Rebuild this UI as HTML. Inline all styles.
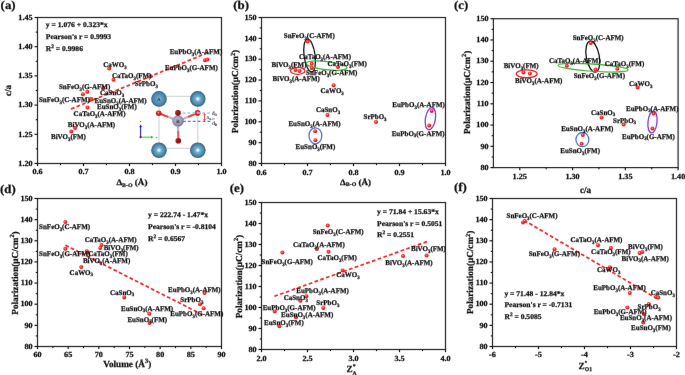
<!DOCTYPE html>
<html><head><meta charset="utf-8"><style>
html,body{margin:0;padding:0;background:#fff;width:685px;height:375px;overflow:hidden}
svg{display:block}
text{font-family:"Liberation Serif",serif;font-weight:bold;fill:#111;stroke:#111;stroke-width:0.25px;text-rendering:geometricPrecision}
</style></head><body>
<svg width="685" height="375" viewBox="0 0 685 375">
<defs>
<radialGradient id="rd" cx="0.42" cy="0.38" r="0.6"><stop offset="0" stop-color="#ff9a9a"/><stop offset="0.45" stop-color="#f82a2a"/><stop offset="1" stop-color="#e01010"/></radialGradient>
<radialGradient id="ag" cx="0.5" cy="0.5" r="0.5"><stop offset="0" stop-color="#f6ffff"/><stop offset="0.12" stop-color="#c4f2ff"/><stop offset="0.32" stop-color="#70aed0"/><stop offset="0.75" stop-color="#4a86a8"/><stop offset="1" stop-color="#2c5a7a"/></radialGradient>
<radialGradient id="ag2" cx="0.5" cy="0.5" r="0.5"><stop offset="0" stop-color="#8cc4e0"/><stop offset="0.4" stop-color="#5f98ba"/><stop offset="0.8" stop-color="#4a82a4"/><stop offset="1" stop-color="#2c5a7a"/></radialGradient>
<radialGradient id="bg" cx="0.45" cy="0.42" r="0.6"><stop offset="0" stop-color="#c8c6dc"/><stop offset="0.6" stop-color="#9896b6"/><stop offset="1" stop-color="#74729a"/></radialGradient>
<radialGradient id="og" cx="0.45" cy="0.42" r="0.6"><stop offset="0" stop-color="#ffb0b0"/><stop offset="0.3" stop-color="#f03030"/><stop offset="0.7" stop-color="#d81818"/><stop offset="1" stop-color="#9a0808"/></radialGradient>
<radialGradient id="og2" cx="0.45" cy="0.42" r="0.6"><stop offset="0" stop-color="#d83030"/><stop offset="0.6" stop-color="#a81010"/><stop offset="1" stop-color="#700606"/></radialGradient>
<filter id="bl" x="-5%" y="-5%" width="110%" height="110%"><feConvolveMatrix order="3" kernelMatrix="0.00163 0.03713 0.00163 0.03713 0.84497 0.03713 0.00163 0.03713 0.00163" divisor="1" edgeMode="none"/></filter>
</defs>
<rect width="685" height="375" fill="#fff"/>
<g filter="url(#bl)">
<rect x="37.5" y="17.5" width="184.00" height="146.00" fill="none" stroke="#262626" stroke-width="1.2"/>
<line x1="37.50" y1="163.5" x2="37.50" y2="166.10" stroke="#111" stroke-width="1.15"/>
<text transform="translate(37.50,174.40) scale(1.05,1)" font-size="7.8" text-anchor="middle">0.6</text>
<line x1="83.50" y1="163.5" x2="83.50" y2="166.10" stroke="#111" stroke-width="1.15"/>
<text transform="translate(83.50,174.40) scale(1.05,1)" font-size="7.8" text-anchor="middle">0.7</text>
<line x1="129.50" y1="163.5" x2="129.50" y2="166.10" stroke="#111" stroke-width="1.15"/>
<text transform="translate(129.50,174.40) scale(1.05,1)" font-size="7.8" text-anchor="middle">0.8</text>
<line x1="175.50" y1="163.5" x2="175.50" y2="166.10" stroke="#111" stroke-width="1.15"/>
<text transform="translate(175.50,174.40) scale(1.05,1)" font-size="7.8" text-anchor="middle">0.9</text>
<line x1="221.50" y1="163.5" x2="221.50" y2="166.10" stroke="#111" stroke-width="1.15"/>
<text transform="translate(221.50,174.40) scale(1.05,1)" font-size="7.8" text-anchor="middle">1.0</text>
<line x1="60.50" y1="163.5" x2="60.50" y2="165.10" stroke="#111" stroke-width="1.1"/>
<line x1="106.50" y1="163.5" x2="106.50" y2="165.10" stroke="#111" stroke-width="1.1"/>
<line x1="152.50" y1="163.5" x2="152.50" y2="165.10" stroke="#111" stroke-width="1.1"/>
<line x1="198.50" y1="163.5" x2="198.50" y2="165.10" stroke="#111" stroke-width="1.1"/>
<line x1="34.50" y1="163.50" x2="37.5" y2="163.50" stroke="#111" stroke-width="1.15"/>
<text transform="translate(32.70,165.70) scale(1.05,1)" font-size="7.8" text-anchor="end">1.20</text>
<line x1="34.50" y1="134.30" x2="37.5" y2="134.30" stroke="#111" stroke-width="1.15"/>
<text transform="translate(32.70,136.50) scale(1.05,1)" font-size="7.8" text-anchor="end">1.25</text>
<line x1="34.50" y1="105.10" x2="37.5" y2="105.10" stroke="#111" stroke-width="1.15"/>
<text transform="translate(32.70,107.30) scale(1.05,1)" font-size="7.8" text-anchor="end">1.30</text>
<line x1="34.50" y1="75.90" x2="37.5" y2="75.90" stroke="#111" stroke-width="1.15"/>
<text transform="translate(32.70,78.10) scale(1.05,1)" font-size="7.8" text-anchor="end">1.35</text>
<line x1="34.50" y1="46.70" x2="37.5" y2="46.70" stroke="#111" stroke-width="1.15"/>
<text transform="translate(32.70,48.90) scale(1.05,1)" font-size="7.8" text-anchor="end">1.40</text>
<line x1="34.50" y1="17.50" x2="37.5" y2="17.50" stroke="#111" stroke-width="1.15"/>
<text transform="translate(32.70,19.70) scale(1.05,1)" font-size="7.8" text-anchor="end">1.45</text>
<line x1="35.80" y1="148.90" x2="37.5" y2="148.90" stroke="#111" stroke-width="1.1"/>
<line x1="35.80" y1="119.70" x2="37.5" y2="119.70" stroke="#111" stroke-width="1.1"/>
<line x1="35.80" y1="90.50" x2="37.5" y2="90.50" stroke="#111" stroke-width="1.1"/>
<line x1="35.80" y1="61.30" x2="37.5" y2="61.30" stroke="#111" stroke-width="1.1"/>
<line x1="35.80" y1="32.10" x2="37.5" y2="32.10" stroke="#111" stroke-width="1.1"/>
<text transform="translate(11,90.5) rotate(-90)" font-size="9.2" text-anchor="middle">c/a</text>
<text transform="translate(131.9,184.7) scale(1.1,1)" font-size="8.28" text-anchor="middle">Δ<tspan font-size="5.34" dy="1.8">B-O</tspan><tspan dy="-1.8"> (Å)</tspan></text>
<text transform="translate(0.6,9.3) scale(1.07,1)" font-size="12.0">(a)</text>
<text transform="translate(45.8,26.9) scale(1.04,1)" font-size="7.3">y = 1.076 + 0.323*x</text>
<text transform="translate(45.8,38.8) scale(1.04,1)" font-size="7.3">Pearson's r = 0.9993</text>
<text transform="translate(45.8,50.599999999999994) scale(1.04,1)" font-size="7.3">R<tspan font-size="5.11" dy="-2.9">2</tspan><tspan dy="2.9"> = 0.9986</tspan></text>
<line x1="71.0" y1="109.0" x2="207.7" y2="52.8" stroke="#f52020" stroke-width="1.7" stroke-dasharray="3.70 2.304"/>
<g>
<g stroke="#c8c8c8" stroke-width="0.9" fill="none"><line x1="159" y1="96.3" x2="197.8" y2="96.3"/><line x1="159" y1="148.3" x2="197.8" y2="148.3"/><line x1="159" y1="99" x2="159" y2="150"/><line x1="197.8" y1="99" x2="197.8" y2="150"/></g>
<circle cx="159" cy="98.9" r="7.8" fill="url(#ag2)"/>
<circle cx="197.8" cy="98.9" r="7.8" fill="url(#ag)"/>
<circle cx="159" cy="150.2" r="7.8" fill="url(#ag)"/>
<circle cx="197.8" cy="150.2" r="7.8" fill="url(#ag)"/>
<g stroke-width="2.2" stroke-linecap="butt"><line x1="158.7" y1="113.2" x2="168.4" y2="117" stroke="#d84a4a"/><line x1="168.4" y1="117" x2="178" y2="121" stroke="#b8b4c8"/><line x1="197.6" y1="112.9" x2="187.8" y2="117" stroke="#d84a4a"/><line x1="187.8" y1="117" x2="178" y2="121" stroke="#b8b4c8"/><line x1="178" y1="121" x2="178.2" y2="131" stroke="#b8b4c8"/><line x1="178.2" y1="131" x2="178.3" y2="140.8" stroke="#e06060"/></g>
<circle cx="178" cy="121" r="5.8" fill="url(#bg)"/>
<circle cx="158.7" cy="113.2" r="2.8" fill="url(#og)"/>
<circle cx="178" cy="112.9" r="2.8" fill="url(#og2)"/>
<circle cx="197.6" cy="112.9" r="2.8" fill="url(#og)"/>
<circle cx="178.3" cy="140.8" r="2.8" fill="url(#og2)"/>
<line x1="182.6" y1="113.0" x2="211" y2="113.0" stroke="#a4c4ec" stroke-width="1.3" stroke-dasharray="2.8 2.1"/>
<line x1="183" y1="121.4" x2="211" y2="121.4" stroke="#3c7ed8" stroke-width="1.2" stroke-dasharray="2.8 2.1"/>
<line x1="204.5" y1="113.8" x2="204.5" y2="120.5" stroke="#e02020" stroke-width="0.8"/>
<path d="M203.4 115.2 L204.5 113.6 L205.6 115.2 M203.4 119.2 L204.5 120.8 L205.6 119.2" stroke="#e02020" stroke-width="0.7" fill="none"/>
<text x="211.9" y="115.2" font-size="5.2" style="font-weight:normal;stroke-width:0.1px">d<tspan font-size="3.4" dy="0.9">O</tspan></text>
<text x="206.4" y="119.2" font-size="4.4" style="font-weight:normal;stroke-width:0.05px;fill:#333">Δ<tspan font-size="3" dy="0.9">B-O</tspan></text>
<text x="212.2" y="124.8" font-size="5.2" style="font-weight:normal;stroke-width:0.1px">d<tspan font-size="3.4" dy="0.9">B</tspan></text>
<text x="156.9" y="100.8" font-size="5" style="font-weight:normal;stroke-width:0.1px">A</text>
<text x="176.3" y="123" font-size="5" style="font-weight:normal;stroke-width:0.1px">B</text>
<text x="176.9" y="114.4" font-size="3.6" style="font-weight:normal;stroke-width:0.05px">O</text>
<text x="177.4" y="142.2" font-size="3.6" style="font-weight:normal;stroke-width:0.05px">O</text>
<line x1="140.6" y1="137.2" x2="140.6" y2="126.5" stroke="#1010e8" stroke-width="1"/>
<path d="M139.2 127.2 L140.6 124.4 L142 127.2 Z" fill="#1010e8"/>
<line x1="140.6" y1="137.2" x2="151.5" y2="137.2" stroke="#18d018" stroke-width="1"/>
<path d="M151 135.8 L153.8 137.2 L151 138.6 Z" fill="#18d018"/>
<circle cx="140.6" cy="137.2" r="1.1" fill="#8a1010"/>
<circle cx="140.6" cy="121.6" r="0.5" fill="#333"/>
<circle cx="156.9" cy="137.4" r="0.5" fill="#333"/>
</g>
<circle cx="109.2" cy="68.6" r="2.0" fill="url(#rd)"/>
<circle cx="113.5" cy="79.8" r="2.0" fill="url(#rd)"/>
<circle cx="150.8" cy="76.3" r="2.0" fill="url(#rd)"/>
<circle cx="82.9" cy="94.3" r="2.0" fill="url(#rd)"/>
<circle cx="87.3" cy="91.8" r="2.0" fill="url(#rd)"/>
<circle cx="103.2" cy="88.3" r="2.0" fill="url(#rd)"/>
<circle cx="90.9" cy="99.0" r="2.0" fill="url(#rd)"/>
<circle cx="91.4" cy="99.2" r="2.0" fill="url(#rd)"/>
<circle cx="87.5" cy="107.6" r="2.0" fill="url(#rd)"/>
<circle cx="75.1" cy="128.1" r="2.0" fill="url(#rd)"/>
<circle cx="71.3" cy="131.5" r="2.0" fill="url(#rd)"/>
<circle cx="205.0" cy="60.3" r="2.0" fill="url(#rd)"/>
<circle cx="207.3" cy="59.6" r="2.0" fill="url(#rd)"/>
<text transform="translate(103.3,67.0) scale(0.972,1)" font-size="7.2" text-anchor="start">CaWO<tspan font-size="5.04" dy="1.9">3</tspan><tspan dy="-1.9"></tspan></text>
<text transform="translate(112.0,77.8) scale(0.972,1)" font-size="7.2" text-anchor="start">CaTaO<tspan font-size="5.04" dy="1.9">3</tspan><tspan dy="-1.9">(FM)</tspan></text>
<text transform="translate(134.8,85.6) scale(0.972,1)" font-size="7.2" text-anchor="start">SrPbO<tspan font-size="5.04" dy="1.9">3</tspan><tspan dy="-1.9"></tspan></text>
<text transform="translate(58.9,88.6) scale(0.972,1)" font-size="7.2" text-anchor="start">SnFeO<tspan font-size="5.04" dy="1.9">3</tspan><tspan dy="-1.9">(G-AFM)</tspan></text>
<text transform="translate(100.0,95.2) scale(0.972,1)" font-size="7.2" text-anchor="start">CaSnO<tspan font-size="5.04" dy="1.9">3</tspan><tspan dy="-1.9"></tspan></text>
<text transform="translate(38.9,102.2) scale(0.972,1)" font-size="7.2" text-anchor="start">SnFeO<tspan font-size="5.04" dy="1.9">3</tspan><tspan dy="-1.9">(C-AFM)</tspan></text>
<text transform="translate(94.5,102.6) scale(0.972,1)" font-size="7.2" text-anchor="start">EuSnO<tspan font-size="5.04" dy="1.9">3</tspan><tspan dy="-1.9">(A-AFM)</tspan></text>
<text transform="translate(97.0,109.0) scale(0.972,1)" font-size="7.2" text-anchor="start">EuSnO<tspan font-size="5.04" dy="1.9">3</tspan><tspan dy="-1.9">(FM)</tspan></text>
<text transform="translate(73.6,115.6) scale(0.972,1)" font-size="7.2" text-anchor="start">CaTaO<tspan font-size="5.04" dy="1.9">3</tspan><tspan dy="-1.9">(A-AFM)</tspan></text>
<text transform="translate(67.8,126.7) scale(0.972,1)" font-size="7.2" text-anchor="start">BiVO<tspan font-size="5.04" dy="1.9">3</tspan><tspan dy="-1.9">(A-AFM)</tspan></text>
<text transform="translate(51.0,139.4) scale(0.972,1)" font-size="7.2" text-anchor="start">BiVO<tspan font-size="5.04" dy="1.9">3</tspan><tspan dy="-1.9">(FM)</tspan></text>
<text transform="translate(169.7,53.6) scale(0.972,1)" font-size="7.2" text-anchor="start">EuPbO<tspan font-size="5.04" dy="1.9">3</tspan><tspan dy="-1.9">(A-AFM)</tspan></text>
<text transform="translate(164.9,69.6) scale(0.972,1)" font-size="7.2" text-anchor="start">EuPbO<tspan font-size="5.04" dy="1.9">3</tspan><tspan dy="-1.9">(G-AFM)</tspan></text>
<rect x="261.5" y="17.5" width="184.00" height="146.00" fill="none" stroke="#262626" stroke-width="1.2"/>
<line x1="261.50" y1="163.5" x2="261.50" y2="166.10" stroke="#111" stroke-width="1.15"/>
<text transform="translate(261.50,174.50) scale(1.05,1)" font-size="7.8" text-anchor="middle">0.6</text>
<line x1="307.50" y1="163.5" x2="307.50" y2="166.10" stroke="#111" stroke-width="1.15"/>
<text transform="translate(307.50,174.50) scale(1.05,1)" font-size="7.8" text-anchor="middle">0.7</text>
<line x1="353.50" y1="163.5" x2="353.50" y2="166.10" stroke="#111" stroke-width="1.15"/>
<text transform="translate(353.50,174.50) scale(1.05,1)" font-size="7.8" text-anchor="middle">0.8</text>
<line x1="399.50" y1="163.5" x2="399.50" y2="166.10" stroke="#111" stroke-width="1.15"/>
<text transform="translate(399.50,174.50) scale(1.05,1)" font-size="7.8" text-anchor="middle">0.9</text>
<line x1="445.50" y1="163.5" x2="445.50" y2="166.10" stroke="#111" stroke-width="1.15"/>
<text transform="translate(445.50,174.50) scale(1.05,1)" font-size="7.8" text-anchor="middle">1.0</text>
<line x1="284.50" y1="163.5" x2="284.50" y2="165.10" stroke="#111" stroke-width="1.1"/>
<line x1="330.50" y1="163.5" x2="330.50" y2="165.10" stroke="#111" stroke-width="1.1"/>
<line x1="376.50" y1="163.5" x2="376.50" y2="165.10" stroke="#111" stroke-width="1.1"/>
<line x1="422.50" y1="163.5" x2="422.50" y2="165.10" stroke="#111" stroke-width="1.1"/>
<line x1="258.50" y1="163.50" x2="261.5" y2="163.50" stroke="#111" stroke-width="1.15"/>
<text transform="translate(256.70,165.70) scale(1.05,1)" font-size="7.8" text-anchor="end">80</text>
<line x1="258.50" y1="142.64" x2="261.5" y2="142.64" stroke="#111" stroke-width="1.15"/>
<text transform="translate(256.70,144.84) scale(1.05,1)" font-size="7.8" text-anchor="end">90</text>
<line x1="258.50" y1="121.79" x2="261.5" y2="121.79" stroke="#111" stroke-width="1.15"/>
<text transform="translate(256.70,123.99) scale(1.05,1)" font-size="7.8" text-anchor="end">100</text>
<line x1="258.50" y1="100.93" x2="261.5" y2="100.93" stroke="#111" stroke-width="1.15"/>
<text transform="translate(256.70,103.13) scale(1.05,1)" font-size="7.8" text-anchor="end">110</text>
<line x1="258.50" y1="80.07" x2="261.5" y2="80.07" stroke="#111" stroke-width="1.15"/>
<text transform="translate(256.70,82.27) scale(1.05,1)" font-size="7.8" text-anchor="end">120</text>
<line x1="258.50" y1="59.21" x2="261.5" y2="59.21" stroke="#111" stroke-width="1.15"/>
<text transform="translate(256.70,61.41) scale(1.05,1)" font-size="7.8" text-anchor="end">130</text>
<line x1="258.50" y1="38.36" x2="261.5" y2="38.36" stroke="#111" stroke-width="1.15"/>
<text transform="translate(256.70,40.56) scale(1.05,1)" font-size="7.8" text-anchor="end">140</text>
<line x1="258.50" y1="17.50" x2="261.5" y2="17.50" stroke="#111" stroke-width="1.15"/>
<text transform="translate(256.70,19.70) scale(1.05,1)" font-size="7.8" text-anchor="end">150</text>
<line x1="259.80" y1="153.07" x2="261.5" y2="153.07" stroke="#111" stroke-width="1.1"/>
<line x1="259.80" y1="132.21" x2="261.5" y2="132.21" stroke="#111" stroke-width="1.1"/>
<line x1="259.80" y1="111.36" x2="261.5" y2="111.36" stroke="#111" stroke-width="1.1"/>
<line x1="259.80" y1="90.50" x2="261.5" y2="90.50" stroke="#111" stroke-width="1.1"/>
<line x1="259.80" y1="69.64" x2="261.5" y2="69.64" stroke="#111" stroke-width="1.1"/>
<line x1="259.80" y1="48.79" x2="261.5" y2="48.79" stroke="#111" stroke-width="1.1"/>
<line x1="259.80" y1="27.93" x2="261.5" y2="27.93" stroke="#111" stroke-width="1.1"/>
<text transform="translate(238.3,91.5) rotate(-90)" font-size="9.2" text-anchor="middle">Polarization(μC/cm<tspan font-size="6.26" dy="-3.6">2</tspan><tspan dy="3.6">)</tspan></text>
<text transform="translate(355.6,184.6) scale(1.1,1)" font-size="8.28" text-anchor="middle">Δ<tspan font-size="5.34" dy="1.8">B-O</tspan><tspan dy="-1.8"> (Å)</tspan></text>
<text transform="translate(233.3,9.0) scale(1.07,1)" font-size="12.0">(b)</text>
<ellipse cx="309.6" cy="55.5" rx="5.5" ry="16.5" transform="rotate(-7.6 309.6 55.5)" fill="none" stroke="#111" stroke-width="1.3"/>
<ellipse cx="326.4" cy="65.6" rx="20.6" ry="4.1" transform="rotate(6.5 326.4 65.6)" fill="none" stroke="#3cb43c" stroke-width="1.3"/>
<ellipse cx="297.7" cy="70.8" rx="7.3" ry="3.5" transform="rotate(0 297.7 70.8)" fill="none" stroke="#e82020" stroke-width="1.3"/>
<ellipse cx="315.4" cy="135.8" rx="6.4" ry="8.0" transform="rotate(0 315.4 135.8)" fill="none" stroke="#4a70d0" stroke-width="1.3"/>
<ellipse cx="430.4" cy="118.7" rx="5.0" ry="11.1" transform="rotate(9.5 430.4 118.7)" fill="none" stroke="#7a3cc8" stroke-width="1.3"/>
<circle cx="307.6" cy="41.5" r="2.0" fill="url(#rd)"/>
<circle cx="311.7" cy="63.8" r="2.0" fill="url(#rd)"/>
<circle cx="311.7" cy="67.9" r="2.0" fill="url(#rd)"/>
<circle cx="338.0" cy="67.0" r="2.0" fill="url(#rd)"/>
<circle cx="295.5" cy="70.0" r="2.0" fill="url(#rd)"/>
<circle cx="299.5" cy="71.1" r="2.0" fill="url(#rd)"/>
<circle cx="333.6" cy="85.2" r="2.0" fill="url(#rd)"/>
<circle cx="327.5" cy="115.0" r="2.0" fill="url(#rd)"/>
<circle cx="376.0" cy="122.0" r="2.0" fill="url(#rd)"/>
<circle cx="315.2" cy="131.2" r="2.0" fill="url(#rd)"/>
<circle cx="315.4" cy="140.3" r="2.0" fill="url(#rd)"/>
<circle cx="431.7" cy="110.9" r="2.0" fill="url(#rd)"/>
<circle cx="429.2" cy="125.5" r="2.0" fill="url(#rd)"/>
<text transform="translate(283.8,38.1) scale(0.972,1)" font-size="7.2" text-anchor="start">SnFeO<tspan font-size="5.04" dy="1.9">3</tspan><tspan dy="-1.9">(C-AFM)</tspan></text>
<text transform="translate(299.1,58.6) scale(0.972,1)" font-size="7.2" text-anchor="start">CaTaO<tspan font-size="5.04" dy="1.9">3</tspan><tspan dy="-1.9">(A-AFM)</tspan></text>
<text transform="translate(327.4,66.0) scale(0.972,1)" font-size="7.2" text-anchor="start">CaTaO<tspan font-size="5.04" dy="1.9">3</tspan><tspan dy="-1.9">(FM)</tspan></text>
<text transform="translate(271.6,67.4) scale(0.972,1)" font-size="7.2" text-anchor="start">BiVO<tspan font-size="5.04" dy="1.9">3</tspan><tspan dy="-1.9">(FM)</tspan></text>
<text transform="translate(306.1,74.8) scale(0.972,1)" font-size="7.2" text-anchor="start">SnFeO<tspan font-size="5.04" dy="1.9">3</tspan><tspan dy="-1.9">(G-AFM)</tspan></text>
<text transform="translate(272.6,80.7) scale(0.972,1)" font-size="7.2" text-anchor="start">BiVO<tspan font-size="5.04" dy="1.9">3</tspan><tspan dy="-1.9">(A-AFM)</tspan></text>
<text transform="translate(320.4,93.3) scale(0.972,1)" font-size="7.2" text-anchor="start">CaWO<tspan font-size="5.04" dy="1.9">3</tspan><tspan dy="-1.9"></tspan></text>
<text transform="translate(315.9,111.7) scale(0.972,1)" font-size="7.2" text-anchor="start">CaSnO<tspan font-size="5.04" dy="1.9">3</tspan><tspan dy="-1.9"></tspan></text>
<text transform="translate(363.5,118.6) scale(0.972,1)" font-size="7.2" text-anchor="start">SrPbO<tspan font-size="5.04" dy="1.9">3</tspan><tspan dy="-1.9"></tspan></text>
<text transform="translate(340.6,126.0) scale(0.972,1)" font-size="7.2" text-anchor="end">EuSnO<tspan font-size="5.04" dy="1.9">3</tspan><tspan dy="-1.9">(A-AFM)</tspan></text>
<text transform="translate(335.3,148.7) scale(0.972,1)" font-size="7.2" text-anchor="end">EuSnO<tspan font-size="5.04" dy="1.9">3</tspan><tspan dy="-1.9">(FM)</tspan></text>
<text transform="translate(392.3,107.3) scale(0.972,1)" font-size="7.2" text-anchor="start">EuPbO<tspan font-size="5.04" dy="1.9">3</tspan><tspan dy="-1.9">(A-AFM)</tspan></text>
<text transform="translate(391.7,135.5) scale(0.972,1)" font-size="7.2" text-anchor="start">EuPbO<tspan font-size="5.04" dy="1.9">3</tspan><tspan dy="-1.9">(G-AFM)</tspan></text>
<rect x="493.4" y="18.7" width="184.70" height="148.90" fill="none" stroke="#262626" stroke-width="1.2"/>
<line x1="519.79" y1="167.6" x2="519.79" y2="170.20" stroke="#111" stroke-width="1.15"/>
<text transform="translate(519.79,178.60) scale(1.05,1)" font-size="7.8" text-anchor="middle">1.25</text>
<line x1="572.56" y1="167.6" x2="572.56" y2="170.20" stroke="#111" stroke-width="1.15"/>
<text transform="translate(572.56,178.60) scale(1.05,1)" font-size="7.8" text-anchor="middle">1.30</text>
<line x1="625.33" y1="167.6" x2="625.33" y2="170.20" stroke="#111" stroke-width="1.15"/>
<text transform="translate(625.33,178.60) scale(1.05,1)" font-size="7.8" text-anchor="middle">1.35</text>
<line x1="678.10" y1="167.6" x2="678.10" y2="170.20" stroke="#111" stroke-width="1.15"/>
<text transform="translate(678.10,178.60) scale(1.05,1)" font-size="7.8" text-anchor="middle">1.40</text>
<line x1="546.17" y1="167.6" x2="546.17" y2="169.20" stroke="#111" stroke-width="1.1"/>
<line x1="598.94" y1="167.6" x2="598.94" y2="169.20" stroke="#111" stroke-width="1.1"/>
<line x1="651.71" y1="167.6" x2="651.71" y2="169.20" stroke="#111" stroke-width="1.1"/>
<line x1="490.40" y1="167.60" x2="493.4" y2="167.60" stroke="#111" stroke-width="1.15"/>
<text transform="translate(488.60,169.80) scale(1.05,1)" font-size="7.8" text-anchor="end">80</text>
<line x1="490.40" y1="146.33" x2="493.4" y2="146.33" stroke="#111" stroke-width="1.15"/>
<text transform="translate(488.60,148.53) scale(1.05,1)" font-size="7.8" text-anchor="end">90</text>
<line x1="490.40" y1="125.06" x2="493.4" y2="125.06" stroke="#111" stroke-width="1.15"/>
<text transform="translate(488.60,127.26) scale(1.05,1)" font-size="7.8" text-anchor="end">100</text>
<line x1="490.40" y1="103.79" x2="493.4" y2="103.79" stroke="#111" stroke-width="1.15"/>
<text transform="translate(488.60,105.99) scale(1.05,1)" font-size="7.8" text-anchor="end">110</text>
<line x1="490.40" y1="82.51" x2="493.4" y2="82.51" stroke="#111" stroke-width="1.15"/>
<text transform="translate(488.60,84.71) scale(1.05,1)" font-size="7.8" text-anchor="end">120</text>
<line x1="490.40" y1="61.24" x2="493.4" y2="61.24" stroke="#111" stroke-width="1.15"/>
<text transform="translate(488.60,63.44) scale(1.05,1)" font-size="7.8" text-anchor="end">130</text>
<line x1="490.40" y1="39.97" x2="493.4" y2="39.97" stroke="#111" stroke-width="1.15"/>
<text transform="translate(488.60,42.17) scale(1.05,1)" font-size="7.8" text-anchor="end">140</text>
<line x1="490.40" y1="18.70" x2="493.4" y2="18.70" stroke="#111" stroke-width="1.15"/>
<text transform="translate(488.60,20.90) scale(1.05,1)" font-size="7.8" text-anchor="end">150</text>
<line x1="491.70" y1="156.96" x2="493.4" y2="156.96" stroke="#111" stroke-width="1.1"/>
<line x1="491.70" y1="135.69" x2="493.4" y2="135.69" stroke="#111" stroke-width="1.1"/>
<line x1="491.70" y1="114.42" x2="493.4" y2="114.42" stroke="#111" stroke-width="1.1"/>
<line x1="491.70" y1="93.15" x2="493.4" y2="93.15" stroke="#111" stroke-width="1.1"/>
<line x1="491.70" y1="71.88" x2="493.4" y2="71.88" stroke="#111" stroke-width="1.1"/>
<line x1="491.70" y1="50.61" x2="493.4" y2="50.61" stroke="#111" stroke-width="1.1"/>
<line x1="491.70" y1="29.34" x2="493.4" y2="29.34" stroke="#111" stroke-width="1.1"/>
<text transform="translate(469.8,92.4) rotate(-90)" font-size="9.2" text-anchor="middle">Polarization(μC/cm<tspan font-size="6.26" dy="-3.6">2</tspan><tspan dy="3.6">)</tspan></text>
<text x="585.6" y="192.7" font-size="9.2" text-anchor="middle">c/a</text>
<text transform="translate(454.0,9.1) scale(1.07,1)" font-size="12.0">(c)</text>
<ellipse cx="526.7" cy="73.8" rx="10.5" ry="3.9" transform="rotate(0 526.7 73.8)" fill="none" stroke="#e82020" stroke-width="1.3"/>
<ellipse cx="592.8" cy="56.6" rx="6.5" ry="15.8" transform="rotate(-10 592.8 56.6)" fill="none" stroke="#111" stroke-width="1.3"/>
<ellipse cx="593.1" cy="67.7" rx="35.1" ry="3.6" transform="rotate(3.8 593.1 67.7)" fill="none" stroke="#3cb43c" stroke-width="1.15"/>
<ellipse cx="652.5" cy="122.0" rx="4.5" ry="11.0" transform="rotate(6 652.5 122.0)" fill="none" stroke="#7a3cc8" stroke-width="1.3"/>
<ellipse cx="582.4" cy="139.6" rx="6.5" ry="7.1" transform="rotate(0 582.4 139.6)" fill="none" stroke="#4a70d0" stroke-width="1.3"/>
<circle cx="523.4" cy="72.5" r="2.0" fill="url(#rd)"/>
<circle cx="529.9" cy="73.6" r="2.0" fill="url(#rd)"/>
<circle cx="566.8" cy="65.8" r="2.0" fill="url(#rd)"/>
<circle cx="590.8" cy="42.9" r="2.0" fill="url(#rd)"/>
<circle cx="595.6" cy="69.5" r="2.0" fill="url(#rd)"/>
<circle cx="617.3" cy="68.7" r="2.0" fill="url(#rd)"/>
<circle cx="637.6" cy="87.4" r="2.0" fill="url(#rd)"/>
<circle cx="653.6" cy="113.6" r="2.0" fill="url(#rd)"/>
<circle cx="652.4" cy="128.6" r="2.0" fill="url(#rd)"/>
<circle cx="601.6" cy="117.4" r="2.0" fill="url(#rd)"/>
<circle cx="623.6" cy="124.6" r="2.0" fill="url(#rd)"/>
<circle cx="582.8" cy="135.1" r="2.0" fill="url(#rd)"/>
<circle cx="581.6" cy="143.8" r="2.0" fill="url(#rd)"/>
<text transform="translate(503.7,67.9) scale(0.972,1)" font-size="7.2" text-anchor="start">BiVO<tspan font-size="5.04" dy="1.9">3</tspan><tspan dy="-1.9">(FM)</tspan></text>
<text transform="translate(515.0,82.8) scale(0.972,1)" font-size="7.2" text-anchor="start">BiVO<tspan font-size="5.04" dy="1.9">3</tspan><tspan dy="-1.9">(A-AFM)</tspan></text>
<text transform="translate(548.9,62.6) scale(0.972,1)" font-size="7.2" text-anchor="start">CaTaO<tspan font-size="5.04" dy="1.9">3</tspan><tspan dy="-1.9">(A-AFM)</tspan></text>
<text transform="translate(572.7,39.9) scale(0.972,1)" font-size="7.2" text-anchor="start">SnFeO<tspan font-size="5.04" dy="1.9">3</tspan><tspan dy="-1.9">(C-AFM)</tspan></text>
<text transform="translate(604.8,66.0) scale(0.972,1)" font-size="7.2" text-anchor="start">CaTaO<tspan font-size="5.04" dy="1.9">3</tspan><tspan dy="-1.9">(FM)</tspan></text>
<text transform="translate(573.7,77.9) scale(0.972,1)" font-size="7.2" text-anchor="start">SnFeO<tspan font-size="5.04" dy="1.9">3</tspan><tspan dy="-1.9">(G-AFM)</tspan></text>
<text transform="translate(629.0,85.9) scale(0.972,1)" font-size="7.2" text-anchor="start">CaWO<tspan font-size="5.04" dy="1.9">3</tspan><tspan dy="-1.9"></tspan></text>
<text transform="translate(626.0,110.5) scale(0.972,1)" font-size="7.2" text-anchor="start">EuPbO<tspan font-size="5.04" dy="1.9">3</tspan><tspan dy="-1.9">(A-AFM)</tspan></text>
<text transform="translate(622.0,138.5) scale(0.972,1)" font-size="7.2" text-anchor="start">EuPbO<tspan font-size="5.04" dy="1.9">3</tspan><tspan dy="-1.9">(G-AFM)</tspan></text>
<text transform="translate(591.0,114.5) scale(0.972,1)" font-size="7.2" text-anchor="start">CaSnO<tspan font-size="5.04" dy="1.9">3</tspan><tspan dy="-1.9"></tspan></text>
<text transform="translate(613.0,122.5) scale(0.972,1)" font-size="7.2" text-anchor="start">SrPbO<tspan font-size="5.04" dy="1.9">3</tspan><tspan dy="-1.9"></tspan></text>
<text transform="translate(561.2,130.9) scale(0.972,1)" font-size="7.2" text-anchor="start">EuSnO<tspan font-size="5.04" dy="1.9">3</tspan><tspan dy="-1.9">(A-AFM)</tspan></text>
<text transform="translate(560.3,152.6) scale(0.972,1)" font-size="7.2" text-anchor="start">EuSnO<tspan font-size="5.04" dy="1.9">3</tspan><tspan dy="-1.9">(FM)</tspan></text>
<rect x="37.5" y="198.5" width="184.00" height="148.00" fill="none" stroke="#262626" stroke-width="1.2"/>
<line x1="37.50" y1="346.5" x2="37.50" y2="349.10" stroke="#111" stroke-width="1.15"/>
<text transform="translate(37.50,357.20) scale(1.05,1)" font-size="7.8" text-anchor="middle">60</text>
<line x1="68.17" y1="346.5" x2="68.17" y2="349.10" stroke="#111" stroke-width="1.15"/>
<text transform="translate(68.17,357.20) scale(1.05,1)" font-size="7.8" text-anchor="middle">65</text>
<line x1="98.83" y1="346.5" x2="98.83" y2="349.10" stroke="#111" stroke-width="1.15"/>
<text transform="translate(98.83,357.20) scale(1.05,1)" font-size="7.8" text-anchor="middle">70</text>
<line x1="129.50" y1="346.5" x2="129.50" y2="349.10" stroke="#111" stroke-width="1.15"/>
<text transform="translate(129.50,357.20) scale(1.05,1)" font-size="7.8" text-anchor="middle">75</text>
<line x1="160.17" y1="346.5" x2="160.17" y2="349.10" stroke="#111" stroke-width="1.15"/>
<text transform="translate(160.17,357.20) scale(1.05,1)" font-size="7.8" text-anchor="middle">80</text>
<line x1="190.83" y1="346.5" x2="190.83" y2="349.10" stroke="#111" stroke-width="1.15"/>
<text transform="translate(190.83,357.20) scale(1.05,1)" font-size="7.8" text-anchor="middle">85</text>
<line x1="221.50" y1="346.5" x2="221.50" y2="349.10" stroke="#111" stroke-width="1.15"/>
<text transform="translate(221.50,357.20) scale(1.05,1)" font-size="7.8" text-anchor="middle">90</text>
<line x1="52.83" y1="346.5" x2="52.83" y2="348.10" stroke="#111" stroke-width="1.1"/>
<line x1="83.50" y1="346.5" x2="83.50" y2="348.10" stroke="#111" stroke-width="1.1"/>
<line x1="114.17" y1="346.5" x2="114.17" y2="348.10" stroke="#111" stroke-width="1.1"/>
<line x1="144.83" y1="346.5" x2="144.83" y2="348.10" stroke="#111" stroke-width="1.1"/>
<line x1="175.50" y1="346.5" x2="175.50" y2="348.10" stroke="#111" stroke-width="1.1"/>
<line x1="206.17" y1="346.5" x2="206.17" y2="348.10" stroke="#111" stroke-width="1.1"/>
<line x1="34.50" y1="346.50" x2="37.5" y2="346.50" stroke="#111" stroke-width="1.15"/>
<text transform="translate(32.70,348.70) scale(1.05,1)" font-size="7.8" text-anchor="end">80</text>
<line x1="34.50" y1="325.36" x2="37.5" y2="325.36" stroke="#111" stroke-width="1.15"/>
<text transform="translate(32.70,327.56) scale(1.05,1)" font-size="7.8" text-anchor="end">90</text>
<line x1="34.50" y1="304.21" x2="37.5" y2="304.21" stroke="#111" stroke-width="1.15"/>
<text transform="translate(32.70,306.41) scale(1.05,1)" font-size="7.8" text-anchor="end">100</text>
<line x1="34.50" y1="283.07" x2="37.5" y2="283.07" stroke="#111" stroke-width="1.15"/>
<text transform="translate(32.70,285.27) scale(1.05,1)" font-size="7.8" text-anchor="end">110</text>
<line x1="34.50" y1="261.93" x2="37.5" y2="261.93" stroke="#111" stroke-width="1.15"/>
<text transform="translate(32.70,264.13) scale(1.05,1)" font-size="7.8" text-anchor="end">120</text>
<line x1="34.50" y1="240.79" x2="37.5" y2="240.79" stroke="#111" stroke-width="1.15"/>
<text transform="translate(32.70,242.99) scale(1.05,1)" font-size="7.8" text-anchor="end">130</text>
<line x1="34.50" y1="219.64" x2="37.5" y2="219.64" stroke="#111" stroke-width="1.15"/>
<text transform="translate(32.70,221.84) scale(1.05,1)" font-size="7.8" text-anchor="end">140</text>
<line x1="34.50" y1="198.50" x2="37.5" y2="198.50" stroke="#111" stroke-width="1.15"/>
<text transform="translate(32.70,200.70) scale(1.05,1)" font-size="7.8" text-anchor="end">150</text>
<line x1="35.80" y1="335.93" x2="37.5" y2="335.93" stroke="#111" stroke-width="1.1"/>
<line x1="35.80" y1="314.79" x2="37.5" y2="314.79" stroke="#111" stroke-width="1.1"/>
<line x1="35.80" y1="293.64" x2="37.5" y2="293.64" stroke="#111" stroke-width="1.1"/>
<line x1="35.80" y1="272.50" x2="37.5" y2="272.50" stroke="#111" stroke-width="1.1"/>
<line x1="35.80" y1="251.36" x2="37.5" y2="251.36" stroke="#111" stroke-width="1.1"/>
<line x1="35.80" y1="230.21" x2="37.5" y2="230.21" stroke="#111" stroke-width="1.1"/>
<line x1="35.80" y1="209.07" x2="37.5" y2="209.07" stroke="#111" stroke-width="1.1"/>
<text transform="translate(18.0,273) rotate(-90)" font-size="9.2" text-anchor="middle">Polarization(μC/cm<tspan font-size="6.26" dy="-3.6">2</tspan><tspan dy="3.6">)</tspan></text>
<text x="127.2" y="367.1" font-size="9.2" text-anchor="middle">Volume (Å<tspan font-size="6.44" dy="-3.8">3</tspan><tspan dy="3.8">)</tspan></text>
<text transform="translate(0.0,193.3) scale(1.07,1)" font-size="12.0">(d)</text>
<text transform="translate(148.0,217.2) scale(1.04,1)" font-size="7.3">y = 222.74 - 1.47*x</text>
<text transform="translate(148.0,229.1) scale(1.04,1)" font-size="7.3">Pearson's r = -0.8104</text>
<text transform="translate(148.0,240.89999999999998) scale(1.04,1)" font-size="7.3">R<tspan font-size="5.11" dy="-2.9">2</tspan><tspan dy="2.9"> = 0.6567</tspan></text>
<line x1="65.4" y1="245.2" x2="202.4" y2="314.6" stroke="#f52020" stroke-width="1.7" stroke-dasharray="3.70 2.295"/>
<circle cx="65.4" cy="222.0" r="2.0" fill="url(#rd)"/>
<circle cx="65.3" cy="248.7" r="2.0" fill="url(#rd)"/>
<circle cx="101.5" cy="245.0" r="2.0" fill="url(#rd)"/>
<circle cx="100.2" cy="248.0" r="2.0" fill="url(#rd)"/>
<circle cx="86.8" cy="251.2" r="2.0" fill="url(#rd)"/>
<circle cx="87.2" cy="252.4" r="2.0" fill="url(#rd)"/>
<circle cx="81.3" cy="266.9" r="2.0" fill="url(#rd)"/>
<circle cx="124.3" cy="297.4" r="2.0" fill="url(#rd)"/>
<circle cx="149.3" cy="313.8" r="2.0" fill="url(#rd)"/>
<circle cx="149.6" cy="323.0" r="2.0" fill="url(#rd)"/>
<circle cx="204.5" cy="293.1" r="2.0" fill="url(#rd)"/>
<circle cx="200.0" cy="304.2" r="2.0" fill="url(#rd)"/>
<circle cx="203.6" cy="308.2" r="2.0" fill="url(#rd)"/>
<text transform="translate(39.1,229.2) scale(0.972,1)" font-size="7.2" text-anchor="start">SnFeO<tspan font-size="5.04" dy="1.9">3</tspan><tspan dy="-1.9">(C-AFM)</tspan></text>
<text transform="translate(84.7,242.0) scale(0.972,1)" font-size="7.2" text-anchor="start">CaTaO<tspan font-size="5.04" dy="1.9">3</tspan><tspan dy="-1.9">(A-AFM)</tspan></text>
<text transform="translate(103.7,250.0) scale(0.972,1)" font-size="7.2" text-anchor="start">BiVO<tspan font-size="5.04" dy="1.9">3</tspan><tspan dy="-1.9">(FM)</tspan></text>
<text transform="translate(39.1,256.3) scale(0.972,1)" font-size="7.2" text-anchor="start">SnFeO<tspan font-size="5.04" dy="1.9">3</tspan><tspan dy="-1.9">(G-AFM)</tspan></text>
<text transform="translate(88.3,255.6) scale(0.972,1)" font-size="7.2" text-anchor="start">CaTaO<tspan font-size="5.04" dy="1.9">3</tspan><tspan dy="-1.9">(FM)</tspan></text>
<text transform="translate(82.9,263.3) scale(0.972,1)" font-size="7.2" text-anchor="start">BiVO<tspan font-size="5.04" dy="1.9">3</tspan><tspan dy="-1.9">(A-AFM)</tspan></text>
<text transform="translate(69.6,274.5) scale(0.972,1)" font-size="7.2" text-anchor="start">CaWO<tspan font-size="5.04" dy="1.9">3</tspan><tspan dy="-1.9"></tspan></text>
<text transform="translate(110.0,294.5) scale(0.972,1)" font-size="7.2" text-anchor="start">CaSnO<tspan font-size="5.04" dy="1.9">3</tspan><tspan dy="-1.9"></tspan></text>
<text transform="translate(168.1,291.6) scale(0.972,1)" font-size="7.2" text-anchor="start">EuPbO<tspan font-size="5.04" dy="1.9">3</tspan><tspan dy="-1.9">(A-AFM)</tspan></text>
<text transform="translate(180.3,302.3) scale(0.972,1)" font-size="7.2" text-anchor="start">SrPbO<tspan font-size="5.04" dy="1.9">3</tspan><tspan dy="-1.9"></tspan></text>
<text transform="translate(121.0,310.5) scale(0.972,1)" font-size="7.2" text-anchor="start">EuSnO<tspan font-size="5.04" dy="1.9">3</tspan><tspan dy="-1.9">(A-AFM)</tspan></text>
<text transform="translate(170.3,315.7) scale(0.972,1)" font-size="7.2" text-anchor="start">EuPbO<tspan font-size="5.04" dy="1.9">3</tspan><tspan dy="-1.9">(G-AFM)</tspan></text>
<text transform="translate(127.4,321.5) scale(0.972,1)" font-size="7.2" text-anchor="start">EuSnO<tspan font-size="5.04" dy="1.9">3</tspan><tspan dy="-1.9">(FM)</tspan></text>
<rect x="261.5" y="202.5" width="184.00" height="147.00" fill="none" stroke="#262626" stroke-width="1.2"/>
<line x1="261.50" y1="349.5" x2="261.50" y2="352.10" stroke="#111" stroke-width="1.15"/>
<text transform="translate(261.50,360.50) scale(1.05,1)" font-size="7.8" text-anchor="middle">2.0</text>
<line x1="307.50" y1="349.5" x2="307.50" y2="352.10" stroke="#111" stroke-width="1.15"/>
<text transform="translate(307.50,360.50) scale(1.05,1)" font-size="7.8" text-anchor="middle">2.5</text>
<line x1="353.50" y1="349.5" x2="353.50" y2="352.10" stroke="#111" stroke-width="1.15"/>
<text transform="translate(353.50,360.50) scale(1.05,1)" font-size="7.8" text-anchor="middle">3.0</text>
<line x1="399.50" y1="349.5" x2="399.50" y2="352.10" stroke="#111" stroke-width="1.15"/>
<text transform="translate(399.50,360.50) scale(1.05,1)" font-size="7.8" text-anchor="middle">3.5</text>
<line x1="445.50" y1="349.5" x2="445.50" y2="352.10" stroke="#111" stroke-width="1.15"/>
<text transform="translate(445.50,360.50) scale(1.05,1)" font-size="7.8" text-anchor="middle">4.0</text>
<line x1="284.50" y1="349.5" x2="284.50" y2="351.10" stroke="#111" stroke-width="1.1"/>
<line x1="330.50" y1="349.5" x2="330.50" y2="351.10" stroke="#111" stroke-width="1.1"/>
<line x1="376.50" y1="349.5" x2="376.50" y2="351.10" stroke="#111" stroke-width="1.1"/>
<line x1="422.50" y1="349.5" x2="422.50" y2="351.10" stroke="#111" stroke-width="1.1"/>
<line x1="258.50" y1="349.50" x2="261.5" y2="349.50" stroke="#111" stroke-width="1.15"/>
<text transform="translate(256.70,351.70) scale(1.05,1)" font-size="7.8" text-anchor="end">80</text>
<line x1="258.50" y1="328.50" x2="261.5" y2="328.50" stroke="#111" stroke-width="1.15"/>
<text transform="translate(256.70,330.70) scale(1.05,1)" font-size="7.8" text-anchor="end">90</text>
<line x1="258.50" y1="307.50" x2="261.5" y2="307.50" stroke="#111" stroke-width="1.15"/>
<text transform="translate(256.70,309.70) scale(1.05,1)" font-size="7.8" text-anchor="end">100</text>
<line x1="258.50" y1="286.50" x2="261.5" y2="286.50" stroke="#111" stroke-width="1.15"/>
<text transform="translate(256.70,288.70) scale(1.05,1)" font-size="7.8" text-anchor="end">110</text>
<line x1="258.50" y1="265.50" x2="261.5" y2="265.50" stroke="#111" stroke-width="1.15"/>
<text transform="translate(256.70,267.70) scale(1.05,1)" font-size="7.8" text-anchor="end">120</text>
<line x1="258.50" y1="244.50" x2="261.5" y2="244.50" stroke="#111" stroke-width="1.15"/>
<text transform="translate(256.70,246.70) scale(1.05,1)" font-size="7.8" text-anchor="end">130</text>
<line x1="258.50" y1="223.50" x2="261.5" y2="223.50" stroke="#111" stroke-width="1.15"/>
<text transform="translate(256.70,225.70) scale(1.05,1)" font-size="7.8" text-anchor="end">140</text>
<line x1="258.50" y1="202.50" x2="261.5" y2="202.50" stroke="#111" stroke-width="1.15"/>
<text transform="translate(256.70,204.70) scale(1.05,1)" font-size="7.8" text-anchor="end">150</text>
<line x1="259.80" y1="339.00" x2="261.5" y2="339.00" stroke="#111" stroke-width="1.1"/>
<line x1="259.80" y1="318.00" x2="261.5" y2="318.00" stroke="#111" stroke-width="1.1"/>
<line x1="259.80" y1="297.00" x2="261.5" y2="297.00" stroke="#111" stroke-width="1.1"/>
<line x1="259.80" y1="276.00" x2="261.5" y2="276.00" stroke="#111" stroke-width="1.1"/>
<line x1="259.80" y1="255.00" x2="261.5" y2="255.00" stroke="#111" stroke-width="1.1"/>
<line x1="259.80" y1="234.00" x2="261.5" y2="234.00" stroke="#111" stroke-width="1.1"/>
<line x1="259.80" y1="213.00" x2="261.5" y2="213.00" stroke="#111" stroke-width="1.1"/>
<text transform="translate(241.5,276.6) rotate(-90)" font-size="9.2" text-anchor="middle">Polarization(μC/cm<tspan font-size="6.26" dy="-3.6">2</tspan><tspan dy="3.6">)</tspan></text>
<text x="346.6" y="372.2" font-size="9.2">Z<tspan font-size="5.70" dy="-4.6">*</tspan><tspan font-size="5.70" dx="-3.2" dy="7.2">A</tspan></text>
<text transform="translate(229.8,192.0) scale(1.07,1)" font-size="12.0">(e)</text>
<text transform="translate(377.0,213.6) scale(1.04,1)" font-size="7.3">y = 71.84 + 15.63*x</text>
<text transform="translate(377.0,225.5) scale(1.04,1)" font-size="7.3">Pearson's r = 0.5051</text>
<text transform="translate(377.0,237.29999999999998) scale(1.04,1)" font-size="7.3">R<tspan font-size="5.11" dy="-2.9">2</tspan><tspan dy="2.9"> = 0.2551</tspan></text>
<line x1="274.4" y1="296.3" x2="427.0" y2="241.6" stroke="#f52020" stroke-width="1.7" stroke-dasharray="3.70 2.393"/>
<circle cx="327.7" cy="225.6" r="2.0" fill="url(#rd)"/>
<circle cx="316.8" cy="249.0" r="2.0" fill="url(#rd)"/>
<circle cx="328.5" cy="251.8" r="2.0" fill="url(#rd)"/>
<circle cx="282.4" cy="252.5" r="2.0" fill="url(#rd)"/>
<circle cx="342.6" cy="270.4" r="2.0" fill="url(#rd)"/>
<circle cx="403.0" cy="256.0" r="2.0" fill="url(#rd)"/>
<circle cx="426.6" cy="255.5" r="2.0" fill="url(#rd)"/>
<circle cx="306.4" cy="296.3" r="2.0" fill="url(#rd)"/>
<circle cx="300.3" cy="300.7" r="2.0" fill="url(#rd)"/>
<circle cx="323.3" cy="307.9" r="2.0" fill="url(#rd)"/>
<circle cx="274.7" cy="311.4" r="2.0" fill="url(#rd)"/>
<circle cx="296.0" cy="317.3" r="2.0" fill="url(#rd)"/>
<circle cx="279.3" cy="326.3" r="2.0" fill="url(#rd)"/>
<text transform="translate(312.7,234.1) scale(0.972,1)" font-size="7.2" text-anchor="start">SnFeO<tspan font-size="5.04" dy="1.9">3</tspan><tspan dy="-1.9">(C-AFM)</tspan></text>
<text transform="translate(292.9,246.9) scale(0.972,1)" font-size="7.2" text-anchor="start">CaTaO<tspan font-size="5.04" dy="1.9">3</tspan><tspan dy="-1.9">(A-AFM)</tspan></text>
<text transform="translate(317.4,259.7) scale(0.972,1)" font-size="7.2" text-anchor="start">CaTaO<tspan font-size="5.04" dy="1.9">3</tspan><tspan dy="-1.9">(FM)</tspan></text>
<text transform="translate(261.6,264.0) scale(0.972,1)" font-size="7.2" text-anchor="start">SnFeO<tspan font-size="5.04" dy="1.9">3</tspan><tspan dy="-1.9">(G-AFM)</tspan></text>
<text transform="translate(336.2,277.2) scale(0.972,1)" font-size="7.2" text-anchor="start">CaWO<tspan font-size="5.04" dy="1.9">3</tspan><tspan dy="-1.9"></tspan></text>
<text transform="translate(411.0,251.0) scale(0.972,1)" font-size="7.2" text-anchor="start">BiVO<tspan font-size="5.04" dy="1.9">3</tspan><tspan dy="-1.9">(FM)</tspan></text>
<text transform="translate(385.3,264.9) scale(0.972,1)" font-size="7.2" text-anchor="start">BiVO<tspan font-size="5.04" dy="1.9">3</tspan><tspan dy="-1.9">(A-AFM)</tspan></text>
<text transform="translate(296.3,293.3) scale(0.972,1)" font-size="7.2" text-anchor="start">EuPbO<tspan font-size="5.04" dy="1.9">3</tspan><tspan dy="-1.9">(A-AFM)</tspan></text>
<text transform="translate(283.7,299.9) scale(0.972,1)" font-size="7.2" text-anchor="start">CaSnO<tspan font-size="5.04" dy="1.9">3</tspan><tspan dy="-1.9"></tspan></text>
<text transform="translate(316.3,304.7) scale(0.972,1)" font-size="7.2" text-anchor="start">SrPbO<tspan font-size="5.04" dy="1.9">3</tspan><tspan dy="-1.9"></tspan></text>
<text transform="translate(262.7,310.3) scale(0.972,1)" font-size="7.2" text-anchor="start">EuPbO<tspan font-size="5.04" dy="1.9">3</tspan><tspan dy="-1.9">(G-AFM)</tspan></text>
<text transform="translate(281.1,316.7) scale(0.972,1)" font-size="7.2" text-anchor="start">EuSnO<tspan font-size="5.04" dy="1.9">3</tspan><tspan dy="-1.9">(A-AFM)</tspan></text>
<text transform="translate(264.0,324.7) scale(0.972,1)" font-size="7.2" text-anchor="start">EuSnO<tspan font-size="5.04" dy="1.9">3</tspan><tspan dy="-1.9">(FM)</tspan></text>
<rect x="492.5" y="198.5" width="184.00" height="148.00" fill="none" stroke="#262626" stroke-width="1.2"/>
<line x1="492.50" y1="346.5" x2="492.50" y2="349.10" stroke="#111" stroke-width="1.15"/>
<text transform="translate(492.50,357.20) scale(1.05,1)" font-size="7.8" text-anchor="middle">-6</text>
<line x1="538.50" y1="346.5" x2="538.50" y2="349.10" stroke="#111" stroke-width="1.15"/>
<text transform="translate(538.50,357.20) scale(1.05,1)" font-size="7.8" text-anchor="middle">-5</text>
<line x1="584.50" y1="346.5" x2="584.50" y2="349.10" stroke="#111" stroke-width="1.15"/>
<text transform="translate(584.50,357.20) scale(1.05,1)" font-size="7.8" text-anchor="middle">-4</text>
<line x1="630.50" y1="346.5" x2="630.50" y2="349.10" stroke="#111" stroke-width="1.15"/>
<text transform="translate(630.50,357.20) scale(1.05,1)" font-size="7.8" text-anchor="middle">-3</text>
<line x1="676.50" y1="346.5" x2="676.50" y2="349.10" stroke="#111" stroke-width="1.15"/>
<text transform="translate(676.50,357.20) scale(1.05,1)" font-size="7.8" text-anchor="middle">-2</text>
<line x1="515.50" y1="346.5" x2="515.50" y2="348.10" stroke="#111" stroke-width="1.1"/>
<line x1="561.50" y1="346.5" x2="561.50" y2="348.10" stroke="#111" stroke-width="1.1"/>
<line x1="607.50" y1="346.5" x2="607.50" y2="348.10" stroke="#111" stroke-width="1.1"/>
<line x1="653.50" y1="346.5" x2="653.50" y2="348.10" stroke="#111" stroke-width="1.1"/>
<line x1="489.50" y1="346.50" x2="492.5" y2="346.50" stroke="#111" stroke-width="1.15"/>
<text transform="translate(487.70,348.70) scale(1.05,1)" font-size="7.8" text-anchor="end">80</text>
<line x1="489.50" y1="325.36" x2="492.5" y2="325.36" stroke="#111" stroke-width="1.15"/>
<text transform="translate(487.70,327.56) scale(1.05,1)" font-size="7.8" text-anchor="end">90</text>
<line x1="489.50" y1="304.21" x2="492.5" y2="304.21" stroke="#111" stroke-width="1.15"/>
<text transform="translate(487.70,306.41) scale(1.05,1)" font-size="7.8" text-anchor="end">100</text>
<line x1="489.50" y1="283.07" x2="492.5" y2="283.07" stroke="#111" stroke-width="1.15"/>
<text transform="translate(487.70,285.27) scale(1.05,1)" font-size="7.8" text-anchor="end">110</text>
<line x1="489.50" y1="261.93" x2="492.5" y2="261.93" stroke="#111" stroke-width="1.15"/>
<text transform="translate(487.70,264.13) scale(1.05,1)" font-size="7.8" text-anchor="end">120</text>
<line x1="489.50" y1="240.79" x2="492.5" y2="240.79" stroke="#111" stroke-width="1.15"/>
<text transform="translate(487.70,242.99) scale(1.05,1)" font-size="7.8" text-anchor="end">130</text>
<line x1="489.50" y1="219.64" x2="492.5" y2="219.64" stroke="#111" stroke-width="1.15"/>
<text transform="translate(487.70,221.84) scale(1.05,1)" font-size="7.8" text-anchor="end">140</text>
<line x1="489.50" y1="198.50" x2="492.5" y2="198.50" stroke="#111" stroke-width="1.15"/>
<text transform="translate(487.70,200.70) scale(1.05,1)" font-size="7.8" text-anchor="end">150</text>
<line x1="490.80" y1="335.93" x2="492.5" y2="335.93" stroke="#111" stroke-width="1.1"/>
<line x1="490.80" y1="314.79" x2="492.5" y2="314.79" stroke="#111" stroke-width="1.1"/>
<line x1="490.80" y1="293.64" x2="492.5" y2="293.64" stroke="#111" stroke-width="1.1"/>
<line x1="490.80" y1="272.50" x2="492.5" y2="272.50" stroke="#111" stroke-width="1.1"/>
<line x1="490.80" y1="251.36" x2="492.5" y2="251.36" stroke="#111" stroke-width="1.1"/>
<line x1="490.80" y1="230.21" x2="492.5" y2="230.21" stroke="#111" stroke-width="1.1"/>
<line x1="490.80" y1="209.07" x2="492.5" y2="209.07" stroke="#111" stroke-width="1.1"/>
<text transform="translate(473.3,272.4) rotate(-90)" font-size="9.2" text-anchor="middle">Polarization(μC/cm<tspan font-size="6.26" dy="-3.6">2</tspan><tspan dy="3.6">)</tspan></text>
<text x="578.5" y="368.5" font-size="9.2">Z<tspan font-size="4.60" dy="-4.8">*</tspan><tspan font-size="5.70" dx="-2.2" dy="6.9">O1</tspan></text>
<text transform="translate(454.0,191.3) scale(1.07,1)" font-size="12.0">(f)</text>
<text transform="translate(504.4,295.5) scale(1.04,1)" font-size="7.3">y = 71.48 - 12.84*x</text>
<text transform="translate(504.4,307.4) scale(1.04,1)" font-size="7.3">Pearson's r = -0.7131</text>
<text transform="translate(504.4,319.2) scale(1.04,1)" font-size="7.3">R<tspan font-size="5.11" dy="-2.9">2</tspan><tspan dy="2.9"> = 0.5085</tspan></text>
<line x1="524.0" y1="220.3" x2="657.0" y2="298.6" stroke="#f52020" stroke-width="1.7" stroke-dasharray="3.70 2.325"/>
<circle cx="523.0" cy="222.4" r="2.0" fill="url(#rd)"/>
<circle cx="524.8" cy="221.0" r="2.0" fill="url(#rd)"/>
<circle cx="554.5" cy="249.2" r="2.0" fill="url(#rd)"/>
<circle cx="598.1" cy="245.2" r="2.0" fill="url(#rd)"/>
<circle cx="610.9" cy="248.1" r="2.0" fill="url(#rd)"/>
<circle cx="639.7" cy="253.0" r="2.0" fill="url(#rd)"/>
<circle cx="642.3" cy="252.0" r="2.0" fill="url(#rd)"/>
<circle cx="609.9" cy="267.3" r="2.0" fill="url(#rd)"/>
<circle cx="629.8" cy="293.1" r="2.0" fill="url(#rd)"/>
<circle cx="656.2" cy="296.8" r="2.0" fill="url(#rd)"/>
<circle cx="658.2" cy="297.5" r="2.0" fill="url(#rd)"/>
<circle cx="648.8" cy="303.9" r="2.0" fill="url(#rd)"/>
<circle cx="627.3" cy="307.6" r="2.0" fill="url(#rd)"/>
<circle cx="643.8" cy="314.0" r="2.0" fill="url(#rd)"/>
<circle cx="643.2" cy="322.6" r="2.0" fill="url(#rd)"/>
<text transform="translate(506.5,217.6) scale(0.972,1)" font-size="7.2" text-anchor="start">SnFeO<tspan font-size="5.04" dy="1.9">3</tspan><tspan dy="-1.9">(C-AFM)</tspan></text>
<text transform="translate(528.7,255.6) scale(0.972,1)" font-size="7.2" text-anchor="start">SnFeO<tspan font-size="5.04" dy="1.9">3</tspan><tspan dy="-1.9">(G-AFM)</tspan></text>
<text transform="translate(570.5,242.0) scale(0.972,1)" font-size="7.2" text-anchor="start">CaTaO<tspan font-size="5.04" dy="1.9">3</tspan><tspan dy="-1.9">(A-AFM)</tspan></text>
<text transform="translate(591.1,254.1) scale(0.972,1)" font-size="7.2" text-anchor="start">CaTaO<tspan font-size="5.04" dy="1.9">3</tspan><tspan dy="-1.9">(FM)</tspan></text>
<text transform="translate(628.0,248.8) scale(0.972,1)" font-size="7.2" text-anchor="start">BiVO<tspan font-size="5.04" dy="1.9">3</tspan><tspan dy="-1.9">(FM)</tspan></text>
<text transform="translate(621.6,260.5) scale(0.972,1)" font-size="7.2" text-anchor="start">BiVO<tspan font-size="5.04" dy="1.9">3</tspan><tspan dy="-1.9">(A-AFM)</tspan></text>
<text transform="translate(597.0,272.2) scale(0.972,1)" font-size="7.2" text-anchor="start">CaWO<tspan font-size="5.04" dy="1.9">3</tspan><tspan dy="-1.9"></tspan></text>
<text transform="translate(593.3,290.3) scale(0.972,1)" font-size="7.2" text-anchor="start">EuPbO<tspan font-size="5.04" dy="1.9">3</tspan><tspan dy="-1.9">(A-AFM)</tspan></text>
<text transform="translate(650.7,294.6) scale(0.972,1)" font-size="7.2" text-anchor="start">CaSnO<tspan font-size="5.04" dy="1.9">3</tspan><tspan dy="-1.9"></tspan></text>
<text transform="translate(637.6,308.9) scale(0.972,1)" font-size="7.2" text-anchor="start">SrPbO<tspan font-size="5.04" dy="1.9">3</tspan><tspan dy="-1.9"></tspan></text>
<text transform="translate(593.7,313.6) scale(0.972,1)" font-size="7.2" text-anchor="start">EuPbO<tspan font-size="5.04" dy="1.9">3</tspan><tspan dy="-1.9">(G-AFM)</tspan></text>
<text transform="translate(619.9,320.1) scale(0.972,1)" font-size="7.2" text-anchor="start">EuSnO<tspan font-size="5.04" dy="1.9">3</tspan><tspan dy="-1.9">(A-AFM)</tspan></text>
<text transform="translate(631.1,330.4) scale(0.972,1)" font-size="7.2" text-anchor="start">EuSnO<tspan font-size="5.04" dy="1.9">3</tspan><tspan dy="-1.9">(FM)</tspan></text>
</g>
</svg>
</body></html>
